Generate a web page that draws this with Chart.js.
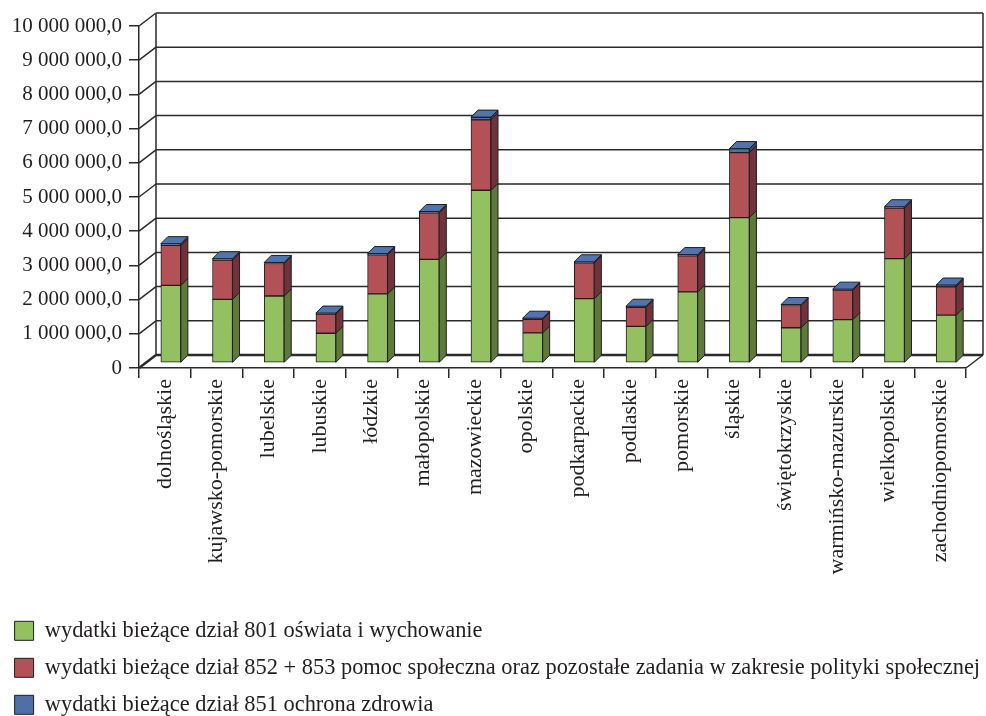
<!DOCTYPE html>
<html>
<head>
<meta charset="utf-8">
<script src="https://cdn.jsdelivr.net/npm/chart.js@4.4.1/dist/chart.umd.min.js"></script>
<style>
  body { margin: 0; background: #fff; }
  canvas { display: block; }
</style>
</head>
<body>
<canvas id="chart" width="986" height="716"></canvas>
<script>
const regions = [
  "dolnośląskie", "kujawsko-pomorskie", "lubelskie", "lubuskie", "łódzkie",
  "małopolskie", "mazowieckie", "opolskie", "podkarpackie", "podlaskie",
  "pomorskie", "śląskie", "świętokrzyskie", "warmińsko-mazurskie",
  "wielkopolskie", "zachodniopomorskie"
];

const seriesNames = [
  "wydatki bieżące dział 801 oświata i wychowanie",
  "wydatki bieżące dział 852 + 853 pomoc społeczna oraz pozostałe zadania w zakresie polityki społecznej",
  "wydatki bieżące dział 851 ochrona zdrowia"
];

const oswiata = [2270000, 1860000, 1960000, 870000, 2020000, 3030000, 5050000, 880000,
  1880000, 1070000, 2080000, 4250000, 1030000, 1270000, 3050000, 1400000];
const pomocSpoleczna = [1170000, 1150000, 950000, 560000, 1140000, 1360000, 2060000, 400000,
  1050000, 560000, 1050000, 1900000, 650000, 860000, 1480000, 830000];
const ochronaZdrowia = [50000, 40000, 30000, 30000, 40000, 40000, 80000, 30000,
  30000, 30000, 40000, 120000, 30000, 30000, 40000, 50000];

const yMax = 10000000;
const yStep = 1000000;

const SERIF = "'Liberation Serif', 'Times New Roman', serif";
const INK = "#231f20";

// colours: front face, side face
const colors = [
  { front: "#93c162", side: "#5e7a3b" },
  { front: "#b35256", side: "#71323a" },
  { front: "#4e6fa7", side: "#2f4670", top: "#5273ad" }
];

// 3D look: back wall offset, bar position offset, bar depth
const WALL = { dx: 17, dy: 13 };
const BAR_SHIFT = { dx: 6, dy: -5 };
const BAR_DEPTH = { dx: 7, dy: 7 };

function fmt(v) {
  if (v === 0) return "0";
  return String(v).replace(/\B(?=(\d{3})+(?!\d))/g, " ") + ",0";
}

const wallPlugin = {
  id: "walls",
  beforeDatasetsDraw(chart) {
    const { ctx, scales: { x, y } } = chart;
    const L = x.left, R = x.right;
    ctx.save();
    ctx.strokeStyle = "#2b2b2b";
    ctx.lineWidth = 1.5;
    for (let v = 0; v <= yMax; v += yStep) {
      const py = y.getPixelForValue(v);
      ctx.beginPath();
      ctx.moveTo(L + WALL.dx, py - WALL.dy);
      ctx.lineTo(R + WALL.dx, py - WALL.dy);
      ctx.moveTo(L, py);
      ctx.lineTo(L + WALL.dx, py - WALL.dy);
      ctx.lineWidth = v === 0 ? 2.5 : 1.5;
      ctx.stroke();
    }
    ctx.lineWidth = 1.5;
    const top = y.getPixelForValue(yMax) - WALL.dy;
    const bot = y.getPixelForValue(0) - WALL.dy;
    ctx.beginPath();
    ctx.moveTo(L + WALL.dx, top);
    ctx.lineTo(L + WALL.dx, bot);
    ctx.moveTo(R + WALL.dx, top);
    ctx.lineTo(R + WALL.dx, bot);
    ctx.moveTo(R, y.getPixelForValue(0));
    ctx.lineTo(R + WALL.dx, bot);
    ctx.stroke();
    ctx.restore();

    ctx.save();
    ctx.translate(BAR_SHIFT.dx, BAR_SHIFT.dy);
  },
  afterDatasetsDraw(chart) {
    const { ctx } = chart;
    const n = chart.data.datasets.length;
    ctx.lineWidth = 1;
    ctx.strokeStyle = "#1e1e1e";
    for (let d = 0; d < n; d++) {
      const meta = chart.getDatasetMeta(d);
      meta.data.forEach(bar => {
        const x2 = bar.x + bar.width / 2;
        const x1 = bar.x - bar.width / 2;
        const yt = Math.min(bar.y, bar.base);
        const yb = Math.max(bar.y, bar.base);
        ctx.beginPath();
        ctx.moveTo(x2, yb);
        ctx.lineTo(x2, yt);
        ctx.lineTo(x2 + BAR_DEPTH.dx, yt - BAR_DEPTH.dy);
        ctx.lineTo(x2 + BAR_DEPTH.dx, yb - BAR_DEPTH.dy);
        ctx.closePath();
        ctx.fillStyle = colors[d].side;
        ctx.fill();
        ctx.stroke();
        if (d === n - 1) {
          ctx.beginPath();
          ctx.moveTo(x1, yt);
          ctx.lineTo(x2, yt);
          ctx.lineTo(x2 + BAR_DEPTH.dx, yt - BAR_DEPTH.dy);
          ctx.lineTo(x1 + BAR_DEPTH.dx, yt - BAR_DEPTH.dy);
          ctx.closePath();
          ctx.fillStyle = colors[d].top;
          ctx.fill();
          ctx.stroke();
        }
      });
    }
    ctx.restore();
  }
};

const ctx = document.getElementById("chart");

new Chart(ctx, {
  type: "bar",
  data: {
    labels: regions,
    datasets: [oswiata, pomocSpoleczna, ochronaZdrowia].map((vals, i) => ({
      label: seriesNames[i],
      data: vals,
      backgroundColor: colors[i].front,
      borderColor: "#1e1e1e",
      borderWidth: 1,
      borderSkipped: false,
      barThickness: 20,
      clip: false
    }))
  },
  options: {
    responsive: false,
    animation: false,
    layout: { padding: { top: 26, right: 0, bottom: -10, left: 0 } },
    plugins: {
      tooltip: { enabled: false },
      legend: {
        position: "bottom",
        align: "start",
        labels: {
          color: INK,
          font: { family: SERIF, size: 22.4 },
          boxWidth: 19,
          boxHeight: 19,
          padding: 14.6
        }
      }
    },
    scales: {
      x: {
        stacked: true,
        grid: {
          display: true,
          drawOnChartArea: false,
          tickLength: 10,
          color: "#2b2b2b",
          lineWidth: 1.5
        },
        border: { display: true, color: "#2b2b2b", width: 1.5 },
        ticks: {
          autoSkip: false,
          minRotation: 90,
          maxRotation: 90,
          padding: 1,
          color: INK,
          font: { family: SERIF, size: 22 }
        },
        afterFit: s => { s.height = 237; }
      },
      y: {
        stacked: true,
        min: 0,
        max: yMax,
        grid: {
          display: true,
          drawOnChartArea: false,
          tickLength: 10,
          color: "#2b2b2b",
          lineWidth: 1.5
        },
        border: { display: true, color: "#2b2b2b", width: 1.5 },
        ticks: {
          stepSize: yStep,
          padding: 7,
          color: INK,
          font: { family: SERIF, size: 21 },
          callback: v => fmt(v)
        },
        afterFit: s => { s.width = 139; }
      },
      // empty right-hand strip, keeps room for the back wall
      spacer: {
        position: "right",
        min: 0,
        max: 1,
        grid: { display: false },
        border: { display: false },
        ticks: { display: false },
        afterFit: s => { s.width = 20; }
      }
    }
  },
  plugins: [wallPlugin]
});
</script>
</body>
</html>
